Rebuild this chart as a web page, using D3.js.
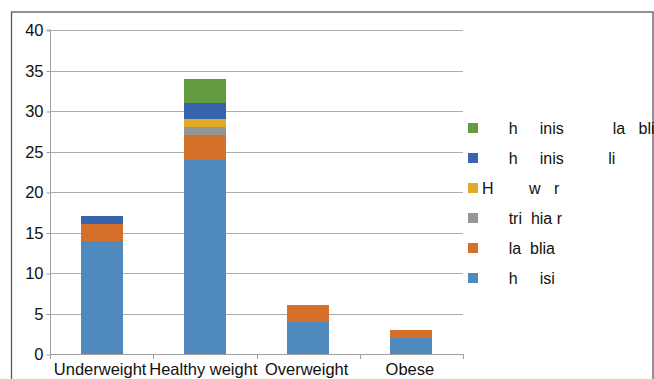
<!DOCTYPE html>
<html><head><meta charset="utf-8">
<script src="https://cdn.jsdelivr.net/npm/d3@7"></script>
<style>
html,body{margin:0;padding:0;background:#fff;}
svg{display:block;font-family:"Liberation Sans",Arial,sans-serif;}
text{white-space:pre;}
</style></head>
<body>
<script>
const categories = ["Underweight", "Healthy weight", "Overweight", "Obese"];
// stacked series, bottom to top
const seriesNames = [
  "      h     isi",
  "      la  blia",
  "      tri  hia r",
  "H        w   r",
  "      h     inis          li",
  "      h     inis           la   bli"
];
const seriesColors = ["#4f89bd", "#d5702b", "#969696", "#e2aa27", "#3864ae", "#629b41"];
const s1 = [14, 24, 4, 2];
const s2 = [2, 3, 2, 1];
const s3 = [0, 1, 0, 0];
const s4 = [0, 1, 0, 0];
const s5 = [1, 2, 0, 0];
const s6 = [0, 3, 0, 0];
const yTicks = [0, 5, 10, 15, 20, 25, 30, 35, 40];

(function () {
const W = 654, H = 379;
const svg = d3.select("body").append("svg").attr("width", W).attr("height", H);

// frame
svg.append("rect").attr("x", 11.5).attr("y", 12).attr("width", 641.5).attr("height", 400)
  .attr("fill", "none").attr("stroke", "#5a5a5a").attr("stroke-width", 1.3);

const pLeft = 50, pRight = 463, pTop = 30, pBottom = 354;
const y = d3.scaleLinear().domain([0, 40]).range([pBottom, pTop]);
const xAxisBand = d3.scaleBand().domain(categories).range([pLeft, pRight]).padding(0);
const x = d3.scaleBand().domain(categories).range([pLeft, pRight])
  .paddingInner(0.593).paddingOuter(0.2965);

// gridlines
svg.append("g").selectAll("line").data(yTicks.filter(d => d > 0)).join("line")
  .attr("x1", pLeft).attr("x2", pRight)
  .attr("y1", d => Math.round(y(d)) + 0.5).attr("y2", d => Math.round(y(d)) + 0.5)
  .attr("stroke", "#acacac").attr("stroke-width", 1);

// stacked data
const series = [s1, s2, s3, s4, s5, s6];
const table = categories.map((c, i) => {
  const o = {cat: c};
  series.forEach((s, k) => o["k" + k] = s[i]);
  return o;
});
const stack = d3.stack().keys(series.map((s, k) => "k" + k))(table);

svg.append("g").attr("shape-rendering", "crispEdges").selectAll("g").data(stack).join("g")
  .attr("fill", (d, i) => seriesColors[i])
  .selectAll("rect").data(d => d.filter(p => p[1] > p[0])).join("rect")
  .attr("x", d => x(d.data.cat)).attr("width", x.bandwidth())
  .attr("y", d => y(d[1])).attr("height", d => y(d[0]) - y(d[1]));

// y axis
const yAxis = d3.axisLeft(y).tickValues(yTicks).tickSize(4).tickPadding(3);
const gy = svg.append("g").attr("transform", `translate(${pLeft + 0.5},0.5)`).call(yAxis);
gy.select(".domain").attr("stroke", "#a0a0a0").attr("d", `M-4,${pTop - 0.5}H0V${pBottom}`);
gy.selectAll(".tick line").attr("stroke", "#a0a0a0");
gy.selectAll(".tick text").attr("font-size", 16.5).attr("fill", "#111")
  .attr("font-family", "Liberation Sans, Arial, sans-serif");

// x axis: ticks at category boundaries
const xAxisG = svg.append("g");
xAxisG.append("line").attr("x1", pLeft).attr("x2", pRight + 0.5)
  .attr("y1", pBottom + 0.5).attr("y2", pBottom + 0.5).attr("stroke", "#a0a0a0");
const bounds = categories.map(c => xAxisBand(c)).concat([pRight]);
xAxisG.selectAll("line.t").data(bounds).join("line").attr("class", "t")
  .attr("x1", d => Math.round(d) + 0.5).attr("x2", d => Math.round(d) + 0.5)
  .attr("y1", pBottom).attr("y2", pBottom + 5).attr("stroke", "#a0a0a0");
xAxisG.selectAll("text").data(categories).join("text")
  .attr("x", d => xAxisBand(d) + xAxisBand.bandwidth() / 2 - 1.5)
  .attr("y", 375).attr("text-anchor", "middle").attr("font-size", 16.5).attr("fill", "#111")
  .text(d => d);

// legend (top row = last series)
const legOrder = d3.range(seriesNames.length).reverse();
const leg = svg.append("g").selectAll("g").data(legOrder).join("g")
  .attr("transform", (d, i) => `translate(468,${128 + i * 30})`);
leg.append("rect").attr("x", 0).attr("y", -5).attr("width", 10).attr("height", 10)
  .attr("fill", d => seriesColors[d]);
leg.append("text").attr("x", 14).attr("y", 6).attr("font-size", 16).attr("fill", "#111")
  .text(d => seriesNames[d]);
})();
</script>
</body></html>
